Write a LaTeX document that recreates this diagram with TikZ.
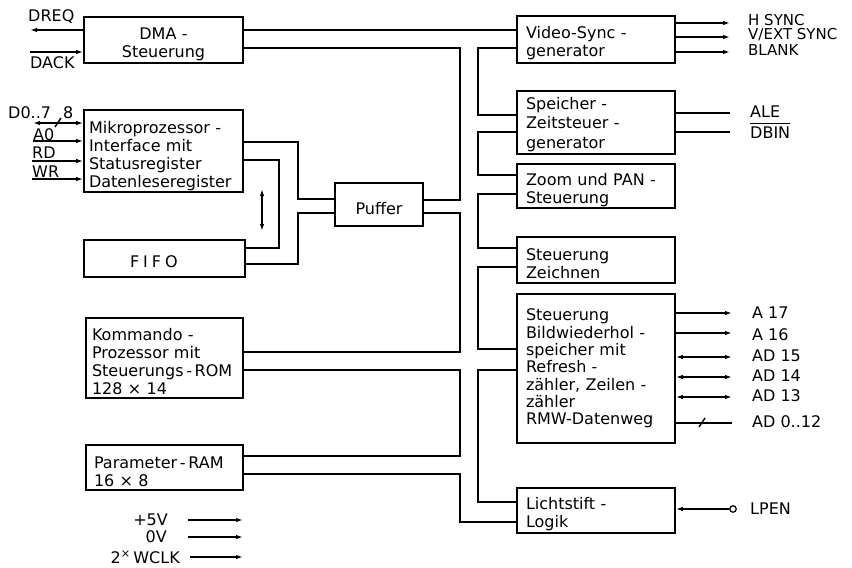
\documentclass[tikz,border=0pt]{standalone}
\usepackage{fontspec}
\setmainfont{DejaVu Sans}
\usetikzlibrary{arrows.meta}
\newcommand\lblfont{\fontsize{16}{18}\selectfont}
\newcommand\lblfonttight{\fontsize{16}{17.3}\selectfont}
\newcommand\lblfontwide{\fontsize{16}{19.5}\selectfont}
\newcommand\smallfont{\fontsize{15}{16}\selectfont}
\newcommand\ovbar[1]{\vbox{\hrule height 1.2pt\kern 2.5pt\hbox{#1}}}
\begin{document}
\begin{tikzpicture}[x=1pt,y=-1pt,
  blk/.style={draw, line width=1.6pt, align=left, inner ysep=0pt, font=\lblfont, text height=20pt},
  wire/.style={line width=1.4pt},
  sig/.style={wire, -{Latex[length=7pt,width=4.5pt]}},
  rsig/.style={wire, {Latex[length=7pt,width=4.5pt]}-},
  bisig/.style={wire, {Latex[length=7pt,width=4.5pt]}-{Latex[length=7pt,width=4.5pt]}},
  lab/.style={font=\lblfont, inner sep=0pt, anchor=west},
  rlab/.style={font=\lblfont, inner sep=0pt, anchor=east},
]
\useasboundingbox (0,0) rectangle (852,568);

% ---------- left blocks ----------
\node[blk, align=center, text width=150, inner xsep=4.5, minimum height=46] (dma) at (163.5,40) {DMA -\\Steuerung};
\node[blk, text width=149, inner xsep=5, minimum height=82, text height=23pt] (mik) at (163.5,151) {Mikroprozessor -\\Interface mit\\Statusregister\\Datenleseregister};
\node[blk, text width=151, inner xsep=5, minimum height=37, text height=18pt] (fifo) at (164.5,258.5) {\hspace*{41pt}F\hspace{4pt}I\hspace{4pt}F\hspace{4pt}O};
\node[blk, align=center, text width=78, inner xsep=5, minimum height=43] (puf) at (379,204.5) {Puffer};
\node[blk, text width=145, inner xsep=6, minimum height=80] (kom) at (164.5,358) {Kommando -\\Prozessor mit\\Steuerungs\,-\,ROM\\128 × 14};
\node[blk, text width=141, inner xsep=8, minimum height=45] (par) at (164.5,467.5) {Parameter\,-\,RAM\\16 × 8};

% ---------- right blocks ----------
\node[blk, text width=140, inner xsep=9, minimum height=47] (vid) at (596,39.5) {Video-Sync -\\generator};
\node[blk, font=\lblfontwide, text width=140, inner xsep=9, minimum height=63, text height=16pt] (spe) at (596,122.5) {Speicher -\\Zeitsteuer -\\generator};
\node[blk, text width=140, inner xsep=9, minimum height=44] (zoo) at (596,186) {Zoom und PAN -\\Steuerung};
\node[blk, text width=140, inner xsep=9, minimum height=46] (stz) at (596,260) {Steuerung\\Zeichnen};
\node[blk, font=\lblfonttight, text width=140, inner xsep=9, minimum height=149, text height=12pt] (bwd) at (596,368.5) {Steuerung\\Bildwiederhol -\\speicher mit\\Refresh -\\zähler, Zeilen -\\zähler\\RMW-Datenweg};
\node[blk, text width=140, inner xsep=9, minimum height=45] (lic) at (596,510.5) {Lichtstift -\\Logik};

% ---------- internal buses ----------
\draw[wire] (dma.east |- 0,30) -- (vid.west |- 0,30);
\draw[wire] (dma.east |- 0,48) -| (460,200) -- (puf.east |- 0,200);
\draw[wire] (puf.east |- 0,213) -| (460,352) -- (kom.east |- 0,352);
\draw[wire] (kom.east |- 0,370) -| (460,456) -- (par.east |- 0,456);
\draw[wire] (par.east |- 0,474) -| (460,522) -- (lic.west |- 0,522);

\draw[wire] (vid.west |- 0,48) -| (478,115) -- (spe.west |- 0,115);
\draw[wire] (spe.west |- 0,132) -| (478,175) -- (zoo.west |- 0,175);
\draw[wire] (zoo.west |- 0,194) -| (478,248) -- (stz.west |- 0,248);
\draw[wire] (stz.west |- 0,267) -| (478,349) -- (bwd.west |- 0,349);
\draw[wire] (bwd.west |- 0,370) -| (478,502) -- (lic.west |- 0,502);

\draw[wire] (mik.east |- 0,142) -| (298,199) -- (puf.west |- 0,199);
\draw[wire] (mik.east |- 0,160) -| (279,248) -- (fifo.east |- 0,248);
\draw[wire] (fifo.east |- 0,264) -| (298,213) -- (puf.west |- 0,213);

\coordinate (dbA) at (262,189);
\coordinate (dbB) at (262,231);
\draw[bisig] (dbA) -- (dbB);

% ---------- left signals ----------
\coordinate (dreq) at (30,30);
\coordinate (dack) at (30,52);
\coordinate (dbus) at (33,123);
\coordinate (azero) at (33,141);
\coordinate (rd) at (32,161);
\coordinate (wr) at (32,179);
\draw[rsig] (dreq) -- (dma.west |- 0,30);
\draw[sig] (dack) -- (dma.west |- 0,52);
\draw[bisig] (dbus) -- (mik.west |- 0,123);
\draw[wire] (55,127) -- (61,118);
\draw[sig] (azero) -- (mik.west |- 0,141);
\draw[sig] (rd) -- (mik.west |- 0,161);
\draw[sig] (wr) -- (mik.west |- 0,179);

\node[lab] (tdreq) at (28,17) {DREQ};
\node[lab] (tdack) at (30,63) {DACK};
\node[lab] (tdbus) at (8,113) {D0..7};
\node[lab] (tbw) at (63,113) {8};
\node[lab] (tazero) at (33,134.5) {A0};
\node[lab] (trd) at (32,153) {RD};
\node[lab] (twr) at (32,172) {WR};

% ---------- right signals ----------
\coordinate (hs) at (730,23);
\coordinate (vs) at (730,37);
\coordinate (bl) at (730,52);
\draw[sig] (vid.east |- 0,23) -- (hs);
\draw[sig] (vid.east |- 0,37) -- (vs);
\draw[sig] (vid.east |- 0,52) -- (bl);
\node[lab, font=\smallfont] (ths) at (748,20.5) {H SYNC};
\node[lab, font=\smallfont] (tvs) at (748,35) {V/EXT SYNC};
\node[lab, font=\smallfont] (tbl) at (748,50) {BLANK};

\coordinate (ale) at (730,113);
\coordinate (dbin) at (730,132);
\draw[wire] (spe.east |- 0,113) -- (ale);
\draw[wire] (spe.east |- 0,132) -- (dbin);
\node[lab] (tale) at (750,112) {ALE};
\node[lab, anchor=base west] (tdbin) at (750,138) {\ovbar{DBIN}};

\coordinate (a17) at (732,313);
\coordinate (a16) at (732,333);
\coordinate (ad15) at (732,357);
\coordinate (ad14) at (732,377);
\coordinate (ad13) at (732,397);
\coordinate (ad0) at (732,423);
\draw[sig] (bwd.east |- 0,313) -- (a17);
\draw[sig] (bwd.east |- 0,333) -- (a16);
\draw[bisig] (bwd.east |- 0,357) -- (ad15);
\draw[bisig] (bwd.east |- 0,377) -- (ad14);
\draw[bisig] (bwd.east |- 0,397) -- (ad13);
\draw[wire] (bwd.east |- 0,423) -- (ad0);
\draw[wire] (699,427) -- (705,418);
\node[lab] (ta17) at (752,313) {A 17};
\node[lab] (ta16) at (752,335) {A 16};
\node[lab] (tad15) at (752,356) {AD 15};
\node[lab] (tad14) at (752,376) {AD 14};
\node[lab] (tad13) at (752,396) {AD 13};
\node[lab] (tad0) at (752,422) {AD 0..12};

\node[draw, circle, line width=1.2pt, minimum size=6.5pt, inner sep=0pt, fill=white] (lpc) at (733,509) {};
\draw[sig] (lpc.west) -- (lic.east |- 0,509);
\node[lab] (tlpen) at (750,509) {LPEN};

% ---------- supply ----------
\coordinate (p1a) at (188,520);
\coordinate (p1b) at (243,520);
\coordinate (p2a) at (188,537);
\coordinate (p2b) at (243,537);
\coordinate (p3a) at (190,557);
\coordinate (p3b) at (243,557);
\draw[sig] (p1a) -- (p1b);
\draw[sig] (p2a) -- (p2b);
\draw[sig] (p3a) -- (p3b);
\node[rlab] (t5v) at (168,520) {+5V};
\node[rlab] (t0v) at (167,537) {0V};
\node[rlab] (twclk) at (180,557) {2\textsuperscript{×}\,WCLK};
\end{tikzpicture}
\end{document}
